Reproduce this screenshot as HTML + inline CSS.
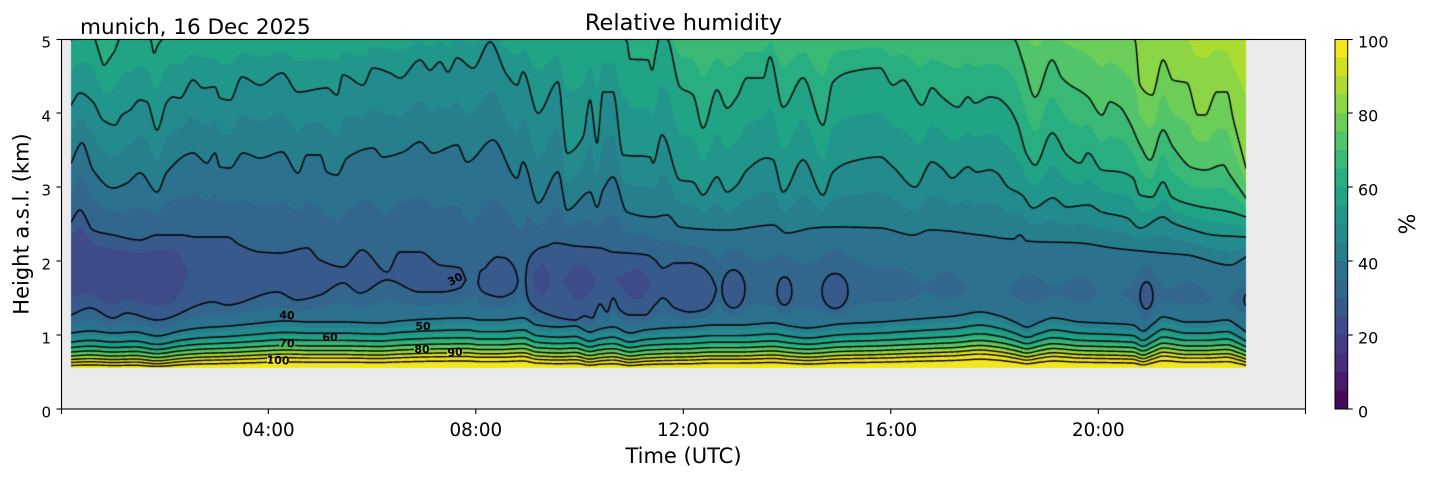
<!DOCTYPE html>
<html><head><meta charset="utf-8">
<style>
html,body{margin:0;padding:0;background:#fff;}
#wrap{position:relative;width:1429px;height:478px;overflow:hidden;background:#fff;}
#axbg{position:absolute;left:62px;top:39px;width:1243px;height:370px;background:#ebebeb;}
#fb{position:absolute;left:71px;top:39px;width:1175px;height:329px;
background:linear-gradient(to bottom,#21a386 0%,#20978a 15.5%,#238b8d 27.4%,#277f8e 39.2%,#2c728e 51%,#32668d 60%,#38598c 72%,#2c728e 84%,#277f8e 87.5%,#21a386 90.6%,#52c469 93.6%,#addc30 96%,#f3e61e 97.6%,#f3e61e 100%);}
canvas{position:absolute;left:0;top:0;}
svg{position:absolute;left:0;top:0;}
</style></head><body>
<div id="wrap">
<div id="axbg"></div>
<div id="fb"></div>
<canvas id="c" width="1429" height="478" style="width:1429px;height:478px"></canvas>
<svg width="1429" height="478" viewBox="0 0 1429 478" font-family="DejaVu Sans, Liberation Sans, sans-serif">
<g font-size="11" font-weight="bold" fill="#000" text-anchor="middle">
<text x="455" y="279" dy="0.36em" transform="rotate(-28 455 279)">30</text>
<text x="287" y="315" dy="0.36em" transform="rotate(3 287 315)">40</text>
<text x="330" y="337" dy="0.36em">60</text>
<text x="287" y="343" dy="0.36em" transform="rotate(3 287 343)">70</text>
<text x="423" y="326" dy="0.36em">50</text>
<text x="422" y="349" dy="0.36em">80</text>
<text x="455" y="352" dy="0.36em" transform="rotate(-5 455 352)">90</text>
<text x="278" y="360" dy="0.36em" transform="rotate(3 278 360)">100</text>
</g>
<rect x="61.5" y="39.5" width="1244" height="369.5" fill="none" stroke="#000" stroke-width="1.1"/>
<g stroke="#000" stroke-width="1.1">
<line x1="56.5" y1="409" x2="61.5" y2="409"/>
<line x1="56.5" y1="335" x2="61.5" y2="335"/>
<line x1="56.5" y1="261" x2="61.5" y2="261"/>
<line x1="56.5" y1="187" x2="61.5" y2="187"/>
<line x1="56.5" y1="113" x2="61.5" y2="113"/>
<line x1="56.5" y1="39.5" x2="61.5" y2="39.5"/>
<line x1="61.5" y1="409" x2="61.5" y2="414"/>
<line x1="268.3" y1="409" x2="268.3" y2="414"/>
<line x1="475.8" y1="409" x2="475.8" y2="414"/>
<line x1="683.3" y1="409" x2="683.3" y2="414"/>
<line x1="890.8" y1="409" x2="890.8" y2="414"/>
<line x1="1098.3" y1="409" x2="1098.3" y2="414"/>
<line x1="1305.5" y1="409" x2="1305.5" y2="414"/>
</g>
<g font-size="15" fill="#000" text-anchor="end">
<text x="51" y="417.3">0</text>
<text x="51" y="343.3">1</text>
<text x="51" y="269.3">2</text>
<text x="51" y="195.3">3</text>
<text x="51" y="121.3">4</text>
<text x="51" y="47.3">5</text>
</g>
<g font-size="18.3" fill="#000" text-anchor="middle">
<text x="268.3" y="436">04:00</text>
<text x="475.8" y="436">08:00</text>
<text x="683.3" y="436">12:00</text>
<text x="890.8" y="436">16:00</text>
<text x="1098.3" y="436">20:00</text>
</g>
<text x="683.5" y="463" font-size="21" text-anchor="middle" fill="#000">Time (UTC)</text>
<text transform="translate(28.5,224) rotate(-90)" font-size="21" text-anchor="middle" fill="#000">Height a.s.l. (km)</text>
<text x="683.5" y="30" font-size="22.5" text-anchor="middle" fill="#000">Relative humidity</text>
<text x="80" y="34" font-size="21.5" fill="#000">munich, 16 Dec 2025</text>
<g>
<rect x="1335" y="390.5" width="12.7" height="18.6" fill="#460a5d"/>
<rect x="1335" y="372" width="12.7" height="18.6" fill="#481c6d"/>
<rect x="1335" y="353.5" width="12.7" height="18.6" fill="#472d7b"/>
<rect x="1335" y="335" width="12.7" height="18.6" fill="#433c84"/>
<rect x="1335" y="316.5" width="12.7" height="18.6" fill="#3e4b89"/>
<rect x="1335" y="298" width="12.7" height="18.6" fill="#38598c"/>
<rect x="1335" y="279.5" width="12.7" height="18.6" fill="#32668d"/>
<rect x="1335" y="261" width="12.7" height="18.6" fill="#2c728e"/>
<rect x="1335" y="242.5" width="12.7" height="18.6" fill="#277f8e"/>
<rect x="1335" y="224" width="12.7" height="18.6" fill="#238b8d"/>
<rect x="1335" y="205.5" width="12.7" height="18.6" fill="#20978a"/>
<rect x="1335" y="187" width="12.7" height="18.6" fill="#21a386"/>
<rect x="1335" y="168.5" width="12.7" height="18.6" fill="#28ae80"/>
<rect x="1335" y="150" width="12.7" height="18.6" fill="#3ab976"/>
<rect x="1335" y="131.5" width="12.7" height="18.6" fill="#52c469"/>
<rect x="1335" y="113" width="12.7" height="18.6" fill="#6dcd59"/>
<rect x="1335" y="94.5" width="12.7" height="18.6" fill="#8cd646"/>
<rect x="1335" y="76" width="12.7" height="18.6" fill="#addc30"/>
<rect x="1335" y="57.5" width="12.7" height="18.6" fill="#cfe11e"/>
<rect x="1335" y="39" width="12.7" height="18.5" fill="#f3e61e"/>
<rect x="1335" y="39.5" width="12.7" height="369.5" fill="none" stroke="#000" stroke-width="1"/>
</g>
<g stroke="#000" stroke-width="1.1">
<line x1="1347.7" y1="409" x2="1352.7" y2="409"/>
<line x1="1347.7" y1="335" x2="1352.7" y2="335"/>
<line x1="1347.7" y1="261" x2="1352.7" y2="261"/>
<line x1="1347.7" y1="187" x2="1352.7" y2="187"/>
<line x1="1347.7" y1="113" x2="1352.7" y2="113"/>
<line x1="1347.7" y1="39.5" x2="1352.7" y2="39.5"/>
</g>
<g font-size="16" fill="#000">
<text x="1358" y="417.3">0</text>
<text x="1358" y="343.3">20</text>
<text x="1358" y="269.3">40</text>
<text x="1358" y="195.3">60</text>
<text x="1358" y="121.3">80</text>
<text x="1358" y="47.3">100</text>
</g>
<text transform="translate(1415,224) rotate(-90)" font-size="22" text-anchor="middle" fill="#000">%</text>
</svg>
</div>
<script>
(function(){
var c=document.getElementById('c');var ctx=c.getContext('2d');
var BAND=[[70,10,93],[72,28,109],[71,45,123],[67,60,132],[62,75,137],[56,89,140],[50,102,141],[44,114,142],[39,127,142],[35,139,141],[32,151,138],[33,163,134],[40,174,128],[58,185,118],[82,196,105],[109,205,89],[140,214,70],[173,220,48],[207,225,30],[243,230,30]];
function bandColor(v){var k=Math.floor(v/5);if(k<0)k=0;if(k>19)k=19;return BAND[k];}
function prep(p){var n=p.length,dk=[],m=[],i;
 for(i=0;i<n-1;i++)dk[i]=(p[i+1][1]-p[i][1])/Math.max(1e-6,(p[i+1][0]-p[i][0]));
 if(n<2){p.m=[0];return;}
 m[0]=dk[0];m[n-1]=dk[n-2];
 for(i=1;i<n-1;i++){if(dk[i-1]*dk[i]<=0)m[i]=0;else{var h0=p[i][0]-p[i-1][0],h1=p[i+1][0]-p[i][0];var w1=2*h1+h0,w2=h1+2*h0;m[i]=(w1+w2)/(w1/dk[i-1]+w2/dk[i]);}}
 p.m=m;}
function ip(p,x){if(!p.m)prep(p);if(x<=p[0][0])return p[0][1];var n=p.length;if(x>=p[n-1][0])return p[n-1][1];var lo=0,hi=n-1;while(hi-lo>1){var mm=(lo+hi)>>1;if(p[mm][0]<=x)lo=mm;else hi=mm;}var a=p[lo],b=p[hi];var h=b[0]-a[0];if(h<1e-6)return a[1];var t=(x-a[0])/h,t2=t*t,t3=t2*t;
 return (2*t3-3*t2+1)*a[1]+(t3-2*t2+t)*h*p.m[lo]+(-2*t3+3*t2)*b[1]+(t3-t2)*h*p.m[hi];}

var P90=[[71,-100],[1100,-30],[1200,0],[1246,20]];
var P80=[[71,-60],[1000,-10],[1100,18],[1128,33],[1135,40],[1140,85],[1152,95],[1163,60],[1173,80],[1187,83],[1198,115],[1205,115],[1217,92],[1227,92],[1233,118],[1246,168]];
var P70=[[71,-40],[480,-30],[600,-10],[680,25],[900,28],[1000,32],[1012,37],[1015,40],[1023,62],[1035,97],[1052,60],[1062,78],[1088,97],[1102,115],[1110,102],[1120,107],[1130,123],[1140,145],[1150,160],[1163,130],[1173,147],[1193,168],[1205,170],[1223,165],[1230,175],[1246,198]];
var P60=[[71,40.5],[80,30],[93,33],[95,39],[99,52],[104,65],[110,58],[115,50],[118,42],[121,34],[140,32],[149,36],[151,41],[154,53],[158,45],[162,39],[165,33],[200,28],[300,30],[400,25],[480,20],[510,25],[560,30],[600,32],[622,36],[627,42],[630,59],[648,60],[652,70],[656,52],[660,36],[665,36],[668,40],[680,87],[693,95],[703,128],[717,90],[727,108],[737,97],[747,78],[763,78],[770,57],[783,107],[803,78],[823,125],[833,82],[850,72],[880,68],[893,85],[903,80],[922,105],[932,88],[942,97],[958,107],[968,97],[975,103],[990,97],[997,98],[1008,107],[1017,123],[1027,155],[1035,165],[1052,133],[1067,155],[1080,163],[1088,153],[1102,170],[1120,172],[1133,178],[1140,195],[1152,197],[1163,182],[1172,197],[1193,205],[1230,212],[1246,217]];
var P50=[[71,105],[80,93],[93,102],[103,120],[115,125],[122,115],[130,110],[140,100],[147,102],[157,130],[167,102],[173,97],[180,98],[193,80],[203,88],[215,87],[220,98],[230,100],[242,77],[260,85],[282,73],[298,92],[327,88],[337,95],[343,75],[363,85],[373,68],[390,73],[400,78],[420,60],[430,70],[440,62],[448,72],[457,58],[473,68],[490,42],[507,75],[517,85],[523,72],[538,113],[558,82],[567,153],[583,137],[590,100],[597,143],[603,92],[613,92],[623,155],[650,157],[653,163],[662,135],[680,180],[693,182],[703,195],[717,177],[727,192],[737,185],[747,170],[767,158],[773,160],[783,192],[803,160],[823,195],[833,172],[850,162],[880,157],[893,167],[915,187],[932,162],[942,168],[952,178],[968,167],[977,172],[990,170],[997,173],[1008,187],[1022,195],[1033,208],[1053,198],[1067,207],[1088,205],[1102,212],[1127,218],[1140,228],[1163,217],[1173,223],[1193,230],[1213,235],[1246,237]];
var P40u=[[71,163],[82,143],[93,170],[113,188],[127,183],[140,173],[157,192],[167,172],[193,153],[207,163],[215,153],[220,167],[230,168],[243,153],[260,158],[282,152],[298,173],[307,155],[320,155],[327,172],[337,175],[347,158],[373,148],[383,157],[403,152],[420,142],[433,153],[457,145],[467,162],[493,140],[517,178],[523,162],[538,203],[558,172],[567,210],[590,192],[597,207],[603,190],[613,177],[627,212],[653,217],[667,215],[680,227],[727,230],[773,225],[787,233],[813,228],[833,227],[880,228],[913,235],[930,230],[980,235],[1013,239],[1020,235],[1027,241],[1080,243],[1113,248],[1163,253],[1187,255],[1230,265],[1246,257]];
var P40l=[[71,333],[90,331],[113,333],[135,332],[157,336],[180,331],[200,328],[230,326],[250,324],[287,321],[310,322],[340,322],[380,323],[400,321],[430,319],[467,318],[480,320],[500,320],[523,318],[537,325],[560,327],[575,326],[590,332],[600,329],[613,327],[630,333],[645,330],[667,328],[690,327],[713,325],[740,325],[773,323],[790,326],[807,328],[840,324],[880,322],[905,320],[930,318],[955,316],[980,312],[1000,316],[1015,322],[1027,327],[1040,322],[1053,318],[1080,322],[1100,323],[1133,325],[1143,331],[1153,324],[1163,317],[1187,322],[1205,322],[1227,320],[1238,326],[1246,332]];
var PYC=[[71,268],[466,280],[479,275],[518,282],[526,285],[716,288],[733,289],[785,290],[835,291],[900,290],[1146,295],[1246,300]];
var PVC=[[71,30],[466,30],[472,30.6],[479,30],[518,30],[522,30.6],[526,30],[716,30],[719,30.8],[722,30],[744,30],[760,31.3],[778,30],[792,30],[808,31.2],[822,30],[848,30],[870,32],[900,32],[925,34.5],[948,32.5],[975,35.5],[1000,35.5],[1030,32.5],[1055,34.5],[1080,32.5],[1105,35.5],[1130,34],[1140,30.5],[1152,30.5],[1165,34],[1193,32.5],[1220,35.5],[1238,33],[1246,30]];
var LS=[[50,334,0.8],[60,341,0.65],[70,346.5,0.55],[80,351,0.5],[90,355,0.45],[100,358.5,0.4],[110,362.5,0.3]];

var ISP=[
{open:true,up:[[71,222],[80,210],[93,230],[113,235],[140,240],[157,235],[180,235],[197,237],[227,237],[240,245],[260,252],[280,253],[307,248],[320,260],[343,267],[362,250],[387,272],[400,252],[420,252],[440,265],[460,268],[466,280]],
 lo:[[71,315],[90,308],[113,318],[127,313],[157,320],[213,302],[227,305],[277,292],[297,300],[320,295],[343,283],[360,293],[387,280],[420,292],[440,292],[460,288],[466,280]],
 vm:[[71,22.5],[170,22.5],[195,25.5],[466,26]]},
{up:[[478,283],[480,272],[485,268],[490,262],[497,257],[505,258],[512,264],[516,272],[518,281]],
 lo:[[478,283],[481,290],[490,295],[500,297],[510,294],[516,288],[518,281]],vm:27.5},
{up:[[525.5,280],[527,265],[533,253],[540,248],[547,246],[555,243],[575,246],[600,248],[613,252],[627,253],[647,255],[655,260],[663,268],[675,263],[690,263],[700,266],[710,275],[715,285],[716.5,290]],
 lo:[[525.5,280],[527,295],[533,306],[540,311],[550,315],[560,318],[575,320],[585,316],[592,318],[600,304],[607,312],[613,298],[620,310],[630,315],[645,315],[655,305],[663,298],[675,308],[690,312],[703,310],[712,302],[716.5,290]],
 vm:[[525,27],[541,23.5],[555,25.5],[580,23.5],[605,25.5],[638,23.5],[660,26],[690,26.5],[716,28]]}
];
var ISE=[{cx:733.5,cy:289,rx:11.5,ry:19,vm:27},{cx:784.5,cy:291,rx:7.5,ry:14,vm:28},{cx:835,cy:291,rx:13,ry:17.5,vm:27.5},{cx:1146.5,cy:295.5,rx:6.5,ry:13.5,vm:28},{cx:1247,cy:300,rx:3,ry:6,vm:29}];

function islandAt(x){
 for(var i=0;i<ISP.length;i++){var I=ISP[i];var x0=I.up[0][0],x1=I.up[I.up.length-1][0];
  if(x>=x0&&x<=x1){return [ip(I.up,x),ip(I.lo,x),(typeof I.vm==='number')?I.vm:ip(I.vm,x)];}}
 for(var j=0;j<ISE.length;j++){var E=ISE[j];var d=(x-E.cx)/E.rx;if(Math.abs(d)<1){var h=E.ry*Math.sqrt(1-d*d);return [E.cy-h,E.cy+h,E.vm];}}
 return null;
}
function nodes(x){
 var n=[[ip(P90,x),90],[ip(P80,x),80],[ip(P70,x),70],[ip(P60,x),60],[ip(P50,x),50],[ip(P40u,x),40]];
 var isl=islandAt(x);
 if(isl){var up=isl[0],lo=isl[1],vm=isl[2];var hgt=Math.max(0,lo-up);var vme=30-(30-vm)*Math.min(1,hgt/24);
  var q=vme+0.3*(30-vme);
  n.push([up,30],[up+0.18*hgt,q],[(up+lo)/2,vme],[lo-0.18*hgt,q],[lo,30]);}
 else n.push([ip(PYC,x),ip(PVC,x)]);
 var y40l=ip(P40l,x);n.push([y40l,40]);
 for(var k=0;k<LS.length;k++)n.push([LS[k][1]+(y40l-323)*LS[k][2],LS[k][0]]);
 n.push([369,120]);
 for(var i=1;i<n.length;i++)if(n[i][0]<=n[i-1][0])n[i][0]=n[i-1][0]+0.01;
 return n;
}
function val(n,y){if(y<=n[0][0])return n[0][1];for(var i=1;i<n.length;i++){if(y<=n[i][0]){var a=n[i-1],b=n[i];return a[1]+(b[1]-a[1])*(y-a[0])/(b[0]-a[0]);}}return n[n.length-1][1];}

var X0=71,X1=1246,Y0=39,Y1=368,W=X1-X0,H=Y1-Y0;
var img=ctx.createImageData(W,H);var d=img.data;
for(var i=0;i<W;i++){var xc=X0+i+0.5;var n=nodes(xc);
 for(var j=0;j<H;j++){var v=val(n,Y0+j+0.5);var col=bandColor(v);var o=(j*W+i)*4;d[o]=col[0];d[o+1]=col[1];d[o+2]=col[2];d[o+3]=255;}}
ctx.putImageData(img,X0,Y0);
document.getElementById('fb').style.display='none';

ctx.save();ctx.beginPath();ctx.rect(X0,Y0,W,H+0.5);ctx.clip();
ctx.strokeStyle='#000';ctx.lineWidth=1.45;ctx.lineJoin='round';ctx.lineCap='round';
function samp(p){var pts=[],x0=p[0][0],x1=p[p.length-1][0];for(var x=x0;x<x1;x+=0.5)pts.push([x,ip(p,x)]);pts.push([x1,p[p.length-1][1]]);return pts;}
function drawPts(pts,close){ctx.beginPath();for(var i=0;i<pts.length;i++){if(i)ctx.lineTo(pts[i][0],pts[i][1]);else ctx.moveTo(pts[i][0],pts[i][1]);}if(close)ctx.closePath();ctx.stroke();}
[P40u,P50,P60,P70,P80,P40l].forEach(function(p){drawPts(samp(p),false);});
for(var k=0;k<LS.length;k++){var pts=[];for(var x=X0;x<=X1;x+=1){pts.push([x,LS[k][1]+(ip(P40l,x)-323)*LS[k][2]]);}drawPts(pts,false);}
ISP.forEach(function(I){var a=samp(I.up),b=samp(I.lo).reverse();drawPts(a.concat(b),!I.open);});
ISE.forEach(function(E){ctx.beginPath();ctx.ellipse(E.cx,E.cy,E.rx,E.ry,0,0,Math.PI*2);ctx.stroke();});
ctx.restore();
var LB=[[330,337,16],[423,326,16],[422,349,16],[455,352,16],[287,343,16],[278,360,22]];
LB.forEach(function(b){var x=Math.round(b[0]-b[2]/2),y=Math.round(b[1]-2.5);ctx.putImageData(img,X0,Y0,x-X0,y-Y0,b[2],5);});
})();
</script>
</body></html>
